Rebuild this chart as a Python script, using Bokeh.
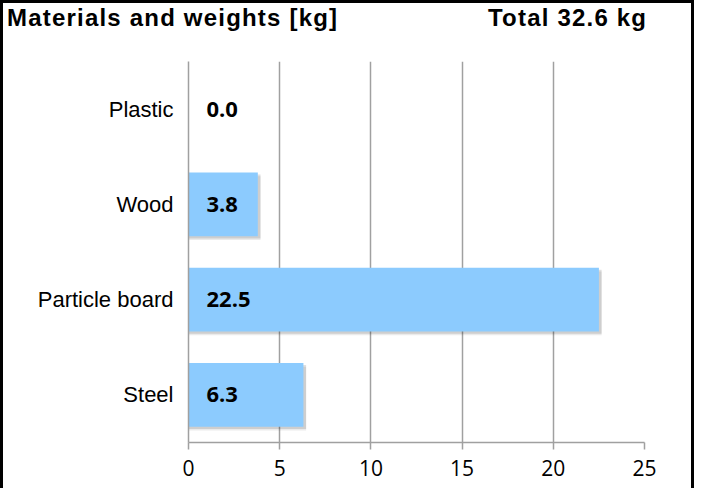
from bokeh.plotting import figure
from bokeh.models import Div, Column, FactorRange, ColumnDataSource, FixedTicker
from bokeh.transform import dodge
from bokeh.core.properties import value
from bokeh.embed import file_html
from bokeh.resources import INLINE

# ---- data ----
categories = ["Plastic", "Wood", "Particle board", "Steel"]
weights = [0.0, 3.8, 22.5, 6.3]
x_ticks = [0, 5, 10, 15, 20, 25]
title_left = "Materials and weights [kg]"
title_right = "Total 32.6 kg"

BAR = "#8CCBFE"
GRID = "#a0a0a0"

labels = [f"{w:.1f}" for w in weights]
shadow_right = [w + 0.15 if w > 0 else 0 for w in weights]
src = ColumnDataSource(dict(cat=categories, w=weights, label=labels, sr=shadow_right))

header = Div(
    text=(
        '<div style="position:relative;width:688px;height:37px;'
        "font-family:'Liberation Sans',Arial,sans-serif;font-weight:bold;"
        'font-size:24px;line-height:24px;letter-spacing:1.2px;color:#000;">'
        f'<span style="position:absolute;left:4px;top:3px;white-space:nowrap;">{title_left}</span>'
        f'<span style="position:absolute;left:485px;top:3px;white-space:nowrap;">{title_right}</span>'
        "</div>"
    ),
    width=688, height=37, margin=0,
)

p = figure(
    width=688, height=448,
    y_range=FactorRange(factors=list(reversed(categories)), range_padding=0),
    x_range=(0, 25),
    output_backend="svg", toolbar_location=None,
    min_border_left=185, min_border_right=47, min_border_top=21, min_border_bottom=46,
    margin=0,
)
p.outline_line_color = None
p.background_fill_color = "white"
p.border_fill_color = "white"

# soft shadow
p.hbar(y=dodge("cat", -0.04, range=p.y_range), left=0, right="sr", height=0.67,
       source=src, fill_color="#000000", fill_alpha=0.08, line_color=None)
p.hbar(y=dodge("cat", -0.022, range=p.y_range), left=0, right="sr", height=0.67,
       source=src, fill_color="#000000", fill_alpha=0.12, line_color=None)
# bars
p.hbar(y="cat", left=0, right="w", height=0.67, source=src,
       fill_color=BAR, line_color=None)

# value labels
p.text(x=0, y="cat", text="label", source=src, x_offset=18,
       text_align="left", text_baseline="middle",
       text_font=value("Open Sans"), text_font_style="bold",
       text_font_size="22px", text_color="black")

# axes
p.xaxis.ticker = FixedTicker(ticks=x_ticks)
p.xaxis.axis_line_color = GRID
p.xaxis.axis_line_width = 1.5
p.xaxis.major_tick_line_color = GRID
p.xaxis.major_tick_line_width = 1.5
p.xaxis.major_tick_out = 7
p.xaxis.major_tick_in = 0
p.xaxis.minor_tick_line_color = None
p.xaxis.major_label_standoff = 10
p.xaxis.major_label_text_font = "Open Sans"
p.xaxis.major_label_text_font_size = "21px"
p.xaxis.major_label_text_color = "black"

p.yaxis.axis_line_color = GRID
p.yaxis.axis_line_width = 1.5
p.yaxis.major_tick_line_color = None
p.yaxis.minor_tick_line_color = None
p.yaxis.major_label_standoff = 9
p.yaxis.major_label_text_font = "Liberation Sans"
p.yaxis.major_label_text_font_size = "22px"
p.yaxis.major_label_text_color = "black"

p.xgrid.grid_line_color = GRID
p.xgrid.grid_line_width = 1.5
p.xgrid.ticker = FixedTicker(ticks=x_ticks)
p.ygrid.grid_line_color = None

layout = Column(
    header, p, spacing=0, margin=0,
    styles={"border-top": "3px solid black", "border-left": "3px solid black",
            "border-right": "3px solid black", "background": "white"},
)

open("out.html", "w").write(file_html(layout, INLINE))
